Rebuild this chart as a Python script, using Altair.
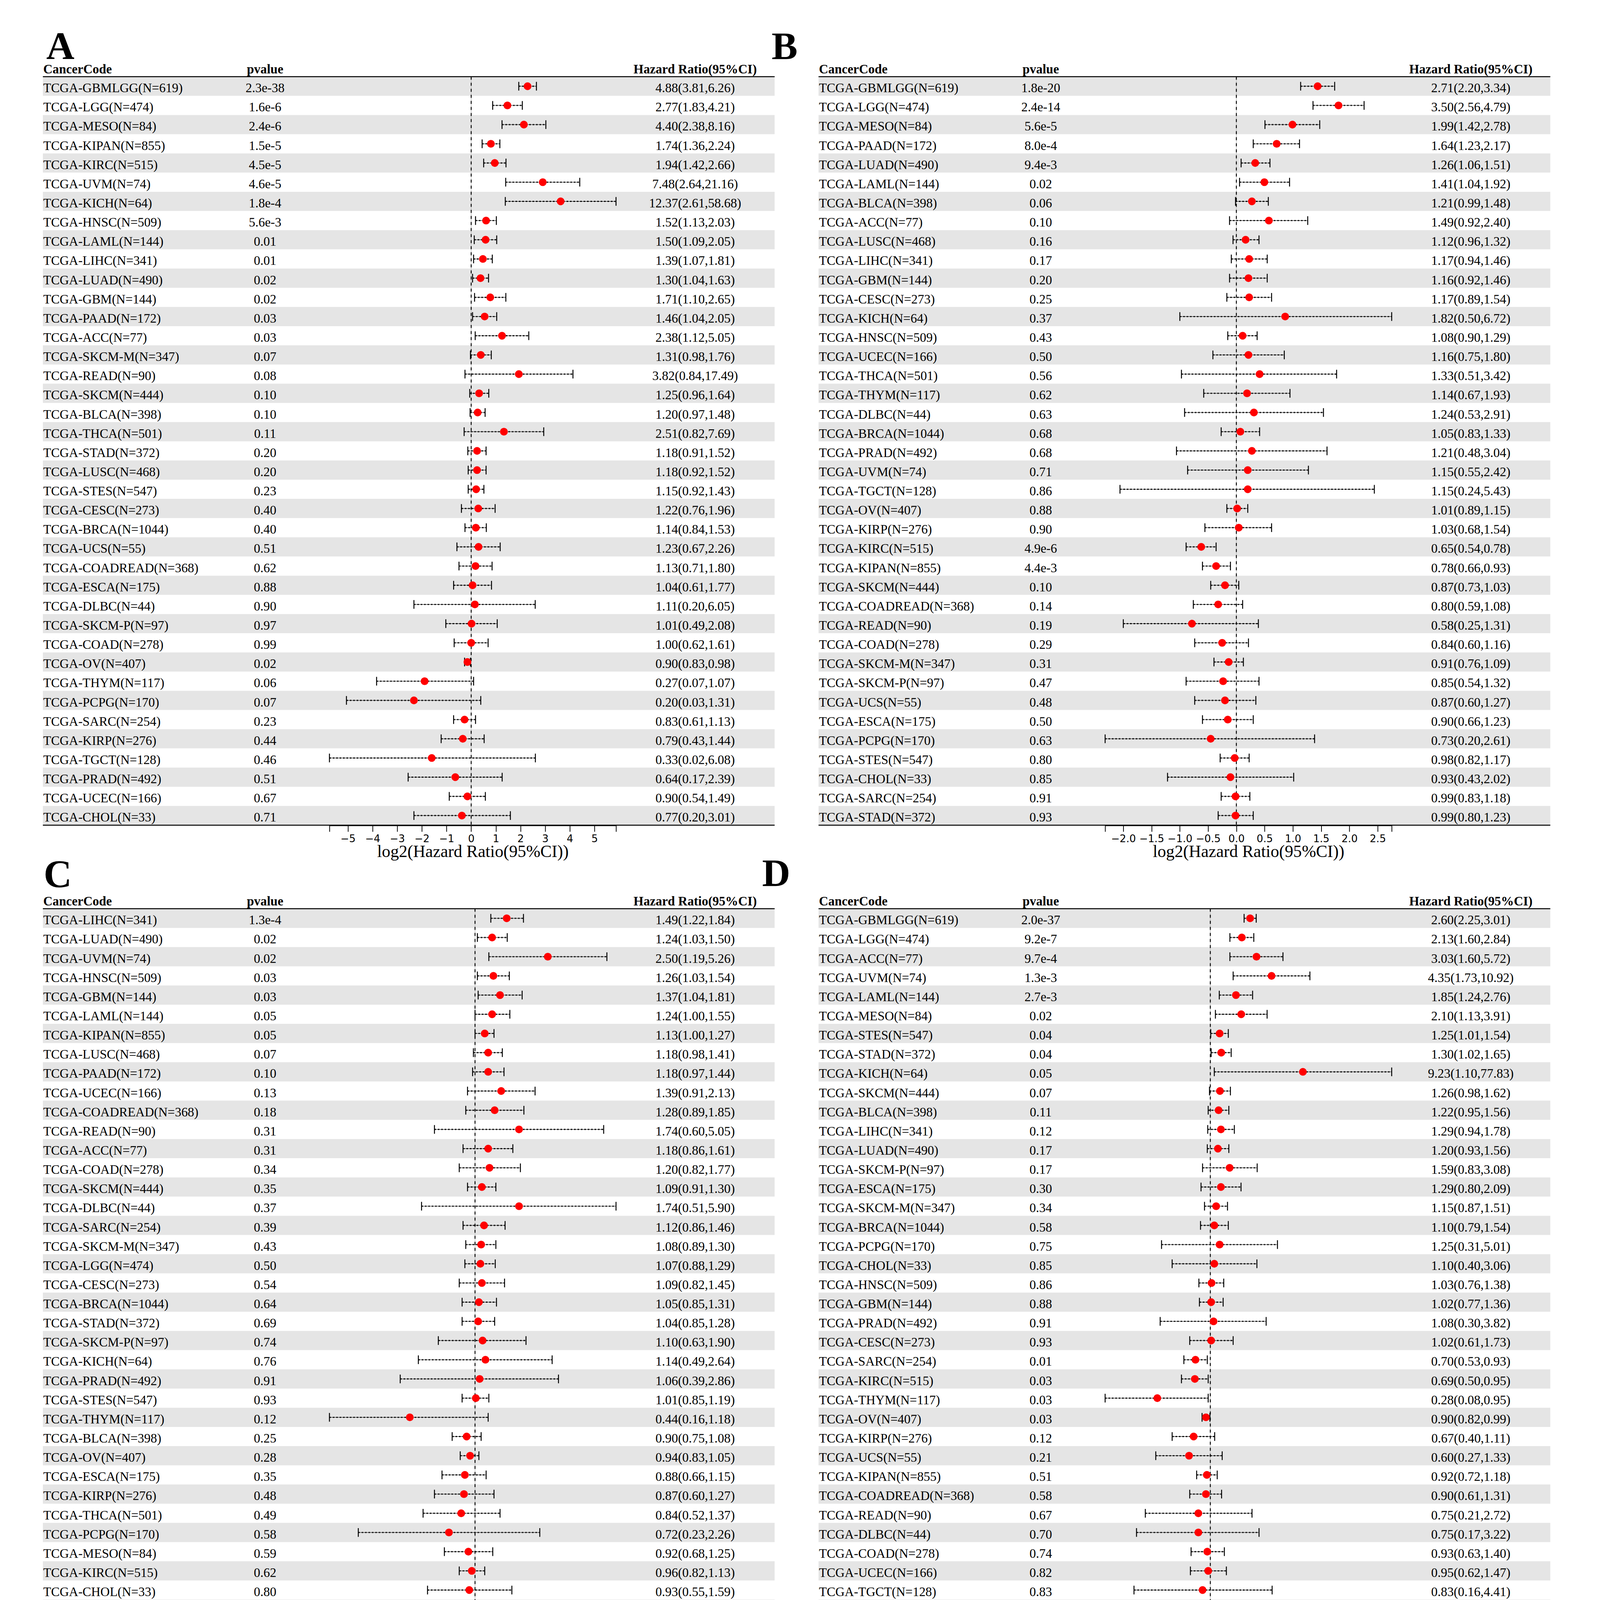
import altair as alt
import numpy as np
import pandas as pd

# ---------------- data ----------------
HEADERS = ["CancerCode", "pvalue", "Hazard Ratio(95%CI)"]
AXIS_TITLE = "log2(Hazard Ratio(95%CI))"
LETTERS = ["A", "B", "C", "D"]

A_names = ["TCGA-GBMLGG(N=619)", "TCGA-LGG(N=474)", "TCGA-MESO(N=84)", "TCGA-KIPAN(N=855)",
           "TCGA-KIRC(N=515)", "TCGA-UVM(N=74)", "TCGA-KICH(N=64)", "TCGA-HNSC(N=509)",
           "TCGA-LAML(N=144)", "TCGA-LIHC(N=341)", "TCGA-LUAD(N=490)", "TCGA-GBM(N=144)",
           "TCGA-PAAD(N=172)", "TCGA-ACC(N=77)", "TCGA-SKCM-M(N=347)", "TCGA-READ(N=90)",
           "TCGA-SKCM(N=444)", "TCGA-BLCA(N=398)", "TCGA-THCA(N=501)", "TCGA-STAD(N=372)",
           "TCGA-LUSC(N=468)", "TCGA-STES(N=547)", "TCGA-CESC(N=273)", "TCGA-BRCA(N=1044)",
           "TCGA-UCS(N=55)", "TCGA-COADREAD(N=368)", "TCGA-ESCA(N=175)", "TCGA-DLBC(N=44)",
           "TCGA-SKCM-P(N=97)", "TCGA-COAD(N=278)", "TCGA-OV(N=407)", "TCGA-THYM(N=117)",
           "TCGA-PCPG(N=170)", "TCGA-SARC(N=254)", "TCGA-KIRP(N=276)", "TCGA-TGCT(N=128)",
           "TCGA-PRAD(N=492)", "TCGA-UCEC(N=166)", "TCGA-CHOL(N=33)"]
A_p = ["2.3e-38", "1.6e-6", "2.4e-6", "1.5e-5", "4.5e-5", "4.6e-5", "1.8e-4", "5.6e-3",
       "0.01", "0.01", "0.02", "0.02", "0.03", "0.03", "0.07", "0.08", "0.10", "0.10", "0.11",
       "0.20", "0.20", "0.23", "0.40", "0.40", "0.51", "0.62", "0.88", "0.90", "0.97", "0.99",
       "0.02", "0.06", "0.07", "0.23", "0.44", "0.46", "0.51", "0.67", "0.71"]
A_hr = [4.88, 2.77, 4.40, 1.74, 1.94, 7.48, 12.37, 1.52, 1.50, 1.39, 1.30, 1.71, 1.46, 2.38,
        1.31, 3.82, 1.25, 1.20, 2.51, 1.18, 1.18, 1.15, 1.22, 1.14, 1.23, 1.13, 1.04, 1.11,
        1.01, 1.00, 0.90, 0.27, 0.20, 0.83, 0.79, 0.33, 0.64, 0.90, 0.77]
A_lo = [3.81, 1.83, 2.38, 1.36, 1.42, 2.64, 2.61, 1.13, 1.09, 1.07, 1.04, 1.10, 1.04, 1.12,
        0.98, 0.84, 0.96, 0.97, 0.82, 0.91, 0.92, 0.92, 0.76, 0.84, 0.67, 0.71, 0.61, 0.20,
        0.49, 0.62, 0.83, 0.07, 0.03, 0.61, 0.43, 0.0186, 0.17, 0.54, 0.20]
A_hi = [6.26, 4.21, 8.16, 2.24, 2.66, 21.16, 58.68, 2.03, 2.05, 1.81, 1.63, 2.65, 2.05, 5.05,
        1.76, 17.49, 1.64, 1.48, 7.69, 1.52, 1.52, 1.43, 1.96, 1.53, 2.26, 1.80, 1.77, 6.05,
        2.08, 1.61, 0.98, 1.07, 1.31, 1.13, 1.44, 6.08, 2.39, 1.49, 3.01]
A_ticks = [-5, -4, -3, -2, -1, 0, 1, 2, 3, 4, 5]

B_names = ["TCGA-GBMLGG(N=619)", "TCGA-LGG(N=474)", "TCGA-MESO(N=84)", "TCGA-PAAD(N=172)",
           "TCGA-LUAD(N=490)", "TCGA-LAML(N=144)", "TCGA-BLCA(N=398)", "TCGA-ACC(N=77)",
           "TCGA-LUSC(N=468)", "TCGA-LIHC(N=341)", "TCGA-GBM(N=144)", "TCGA-CESC(N=273)",
           "TCGA-KICH(N=64)", "TCGA-HNSC(N=509)", "TCGA-UCEC(N=166)", "TCGA-THCA(N=501)",
           "TCGA-THYM(N=117)", "TCGA-DLBC(N=44)", "TCGA-BRCA(N=1044)", "TCGA-PRAD(N=492)",
           "TCGA-UVM(N=74)", "TCGA-TGCT(N=128)", "TCGA-OV(N=407)", "TCGA-KIRP(N=276)",
           "TCGA-KIRC(N=515)", "TCGA-KIPAN(N=855)", "TCGA-SKCM(N=444)", "TCGA-COADREAD(N=368)",
           "TCGA-READ(N=90)", "TCGA-COAD(N=278)", "TCGA-SKCM-M(N=347)", "TCGA-SKCM-P(N=97)",
           "TCGA-UCS(N=55)", "TCGA-ESCA(N=175)", "TCGA-PCPG(N=170)", "TCGA-STES(N=547)",
           "TCGA-CHOL(N=33)", "TCGA-SARC(N=254)", "TCGA-STAD(N=372)"]
B_p = ["1.8e-20", "2.4e-14", "5.6e-5", "8.0e-4", "9.4e-3", "0.02", "0.06", "0.10", "0.16",
       "0.17", "0.20", "0.25", "0.37", "0.43", "0.50", "0.56", "0.62", "0.63", "0.68", "0.68",
       "0.71", "0.86", "0.88", "0.90", "4.9e-6", "4.4e-3", "0.10", "0.14", "0.19", "0.29",
       "0.31", "0.47", "0.48", "0.50", "0.63", "0.80", "0.85", "0.91", "0.93"]
B_hr = [2.71, 3.50, 1.99, 1.64, 1.26, 1.41, 1.21, 1.49, 1.12, 1.17, 1.16, 1.17, 1.82, 1.08,
        1.16, 1.33, 1.14, 1.24, 1.05, 1.21, 1.15, 1.15, 1.01, 1.03, 0.65, 0.78, 0.87, 0.80,
        0.58, 0.84, 0.91, 0.85, 0.87, 0.90, 0.73, 0.98, 0.93, 0.99, 0.99]
B_lo = [2.20, 2.56, 1.42, 1.23, 1.06, 1.04, 0.99, 0.92, 0.96, 0.94, 0.92, 0.89, 0.50, 0.90,
        0.75, 0.51, 0.67, 0.53, 0.83, 0.48, 0.55, 0.24, 0.89, 0.68, 0.54, 0.66, 0.73, 0.59,
        0.25, 0.60, 0.76, 0.54, 0.60, 0.66, 0.20, 0.82, 0.43, 0.83, 0.80]
B_hi = [3.34, 4.79, 2.78, 2.17, 1.51, 1.92, 1.48, 2.40, 1.32, 1.46, 1.46, 1.54, 6.72, 1.29,
        1.80, 3.42, 1.93, 2.91, 1.33, 3.04, 2.42, 5.43, 1.15, 1.54, 0.78, 0.93, 1.03, 1.08,
        1.31, 1.16, 1.09, 1.32, 1.27, 1.23, 2.61, 1.17, 2.02, 1.18, 1.23]
B_ticks = [-2.0, -1.5, -1.0, -0.5, 0.0, 0.5, 1.0, 1.5, 2.0, 2.5]

C_names = ["TCGA-LIHC(N=341)", "TCGA-LUAD(N=490)", "TCGA-UVM(N=74)", "TCGA-HNSC(N=509)",
           "TCGA-GBM(N=144)", "TCGA-LAML(N=144)", "TCGA-KIPAN(N=855)", "TCGA-LUSC(N=468)",
           "TCGA-PAAD(N=172)", "TCGA-UCEC(N=166)", "TCGA-COADREAD(N=368)", "TCGA-READ(N=90)",
           "TCGA-ACC(N=77)", "TCGA-COAD(N=278)", "TCGA-SKCM(N=444)", "TCGA-DLBC(N=44)",
           "TCGA-SARC(N=254)", "TCGA-SKCM-M(N=347)", "TCGA-LGG(N=474)", "TCGA-CESC(N=273)",
           "TCGA-BRCA(N=1044)", "TCGA-STAD(N=372)", "TCGA-SKCM-P(N=97)", "TCGA-KICH(N=64)",
           "TCGA-PRAD(N=492)", "TCGA-STES(N=547)", "TCGA-THYM(N=117)", "TCGA-BLCA(N=398)",
           "TCGA-OV(N=407)", "TCGA-ESCA(N=175)", "TCGA-KIRP(N=276)", "TCGA-THCA(N=501)",
           "TCGA-PCPG(N=170)", "TCGA-MESO(N=84)", "TCGA-KIRC(N=515)", "TCGA-CHOL(N=33)",
           "TCGA-GBMLGG(N=619)", "TCGA-UCS(N=55)", "TCGA-TGCT(N=128)"]
C_p = ["1.3e-4", "0.02", "0.02", "0.03", "0.03", "0.05", "0.05", "0.07", "0.10", "0.13",
       "0.18", "0.31", "0.31", "0.34", "0.35", "0.37", "0.39", "0.43", "0.50", "0.54", "0.64",
       "0.69", "0.74", "0.76", "0.91", "0.93", "0.12", "0.25", "0.28", "0.35", "0.48", "0.49",
       "0.58", "0.59", "0.62", "0.80", "0.86", "0.87", "0.90"]
C_hr = [1.49, 1.24, 2.50, 1.26, 1.37, 1.24, 1.13, 1.18, 1.18, 1.39, 1.28, 1.74, 1.18, 1.20,
        1.09, 1.74, 1.12, 1.08, 1.07, 1.09, 1.05, 1.04, 1.10, 1.14, 1.06, 1.01, 0.44, 0.90,
        0.94, 0.88, 0.87, 0.84, 0.72, 0.92, 0.96, 0.93, 0.99, 0.96, 0.92]
C_lo = [1.22, 1.03, 1.19, 1.03, 1.04, 1.00, 1.00, 0.98, 0.97, 0.91, 0.89, 0.60, 0.86, 0.82,
        0.91, 0.51, 0.86, 0.89, 0.88, 0.82, 0.85, 0.85, 0.63, 0.49, 0.39, 0.85, 0.16, 0.75,
        0.83, 0.66, 0.60, 0.52, 0.23, 0.68, 0.82, 0.55, 0.86, 0.57, 0.27]
C_hi = [1.84, 1.50, 5.26, 1.54, 1.81, 1.55, 1.27, 1.41, 1.44, 2.13, 1.85, 5.05, 1.61, 1.77,
        1.30, 5.90, 1.46, 1.30, 1.29, 1.45, 1.31, 1.28, 1.90, 2.64, 2.86, 1.19, 1.18, 1.08,
        1.05, 1.15, 1.27, 1.37, 2.26, 1.25, 1.13, 1.59, 1.13, 1.61, 3.14]
C_ticks = [-2.5, -2.0, -1.5, -1.0, -0.5, 0.0, 0.5, 1.0, 1.5, 2.0, 2.5]

D_names = ["TCGA-GBMLGG(N=619)", "TCGA-LGG(N=474)", "TCGA-ACC(N=77)", "TCGA-UVM(N=74)",
           "TCGA-LAML(N=144)", "TCGA-MESO(N=84)", "TCGA-STES(N=547)", "TCGA-STAD(N=372)",
           "TCGA-KICH(N=64)", "TCGA-SKCM(N=444)", "TCGA-BLCA(N=398)", "TCGA-LIHC(N=341)",
           "TCGA-LUAD(N=490)", "TCGA-SKCM-P(N=97)", "TCGA-ESCA(N=175)", "TCGA-SKCM-M(N=347)",
           "TCGA-BRCA(N=1044)", "TCGA-PCPG(N=170)", "TCGA-CHOL(N=33)", "TCGA-HNSC(N=509)",
           "TCGA-GBM(N=144)", "TCGA-PRAD(N=492)", "TCGA-CESC(N=273)", "TCGA-SARC(N=254)",
           "TCGA-KIRC(N=515)", "TCGA-THYM(N=117)", "TCGA-OV(N=407)", "TCGA-KIRP(N=276)",
           "TCGA-UCS(N=55)", "TCGA-KIPAN(N=855)", "TCGA-COADREAD(N=368)", "TCGA-READ(N=90)",
           "TCGA-DLBC(N=44)", "TCGA-COAD(N=278)", "TCGA-UCEC(N=166)", "TCGA-TGCT(N=128)",
           "TCGA-THCA(N=501)", "TCGA-PAAD(N=172)", "TCGA-LUSC(N=468)"]
D_p = ["2.0e-37", "9.2e-7", "9.7e-4", "1.3e-3", "2.7e-3", "0.02", "0.04", "0.04", "0.05",
       "0.07", "0.11", "0.12", "0.17", "0.17", "0.30", "0.34", "0.58", "0.75", "0.85", "0.86",
       "0.88", "0.91", "0.93", "0.01", "0.03", "0.03", "0.03", "0.12", "0.21", "0.51", "0.58",
       "0.67", "0.70", "0.74", "0.82", "0.83", "0.93", "0.95", "0.96"]
D_hr = [2.60, 2.13, 3.03, 4.35, 1.85, 2.10, 1.25, 1.30, 9.23, 1.26, 1.22, 1.29, 1.20, 1.59,
        1.29, 1.15, 1.10, 1.25, 1.10, 1.03, 1.02, 1.08, 1.02, 0.70, 0.69, 0.28, 0.90, 0.67,
        0.60, 0.92, 0.90, 0.75, 0.75, 0.93, 0.95, 0.83, 0.94, 0.99, 0.99]
D_lo = [2.25, 1.60, 1.60, 1.73, 1.24, 1.13, 1.01, 1.02, 1.10, 0.98, 0.95, 0.94, 0.93, 0.83,
        0.80, 0.87, 0.79, 0.31, 0.40, 0.76, 0.77, 0.30, 0.61, 0.53, 0.50, 0.08, 0.82, 0.40,
        0.27, 0.72, 0.61, 0.21, 0.17, 0.63, 0.62, 0.16, 0.27, 0.67, 0.75]
D_hi = [3.01, 2.84, 5.72, 10.92, 2.76, 3.91, 1.54, 1.65, 77.83, 1.62, 1.56, 1.78, 1.56, 3.08,
        2.09, 1.51, 1.54, 5.01, 3.06, 1.38, 1.36, 3.82, 1.73, 0.93, 0.95, 0.95, 0.99, 1.11,
        1.33, 1.18, 1.31, 2.72, 3.22, 1.40, 1.47, 4.41, 3.33, 1.47, 1.31]
D_ticks = [-3, -2, -1, 0, 1, 2, 3, 4, 5, 6]

# ---------------- layout / style (pixels inside one 4210 x 4403 view) ----------------
VIEW_W, VIEW_H = 4210, 4403
W = 1933              # table width of a panel
ROW = 50.7            # row height
FOREST = (757, 1514)  # forest column inside a panel (relative to table left)
P_X = 587
HR_X = 1723
SERIF = "Liberation Serif"
GREY = "#e5e5e5"
# table top-left of each panel, letter anchor (x, baseline) of each panel
ORIGINS = [(105, 73.3), (2154, 73.3), (105, 2271.3), (2154, 2271.3)]
LETTER_POS = [(114, 77), (2030, 77), (107, 2264), (2005, 2262)]


def panel(letter, origin, lpos, names, pv, hr, lo, hi, ticks, fmt):
    x0, y0 = origin
    n = len(names)
    H = (n + 1) * ROW
    df = pd.DataFrame({"row": np.arange(1, n + 1), "name": names, "p": pv,
                       "hr": hr, "lo": lo, "hi": hi})
    df["lhr"] = np.log2(df["hr"])
    df["llo"] = np.log2(df["lo"])
    df["lhi"] = np.log2(df["hi"])
    df["label"] = [f"{a:.2f}({b:.2f},{c:.2f})" for a, b, c in zip(hr, lo, hi)]
    xmin = float(df["llo"].min())
    xmax = float(df["lhi"].max())

    ysc = alt.Scale(domain=[-0.5, n + 0.5], range=[y0, y0 + H], nice=False, zero=False)
    xsc = alt.Scale(domain=[xmin, xmax], range=[x0 + FOREST[0], x0 + FOREST[1]],
                    nice=False, zero=False)

    label_expr = (f"datum.value < {ticks[0] - 1e-9} || datum.value > {ticks[-1] + 1e-9}"
                  f" ? '' : format(datum.value, '{fmt}')")
    axis = alt.Axis(values=[xmin] + list(ticks) + [xmax], labelExpr=label_expr,
                    orient="bottom", offset=y0 + H - VIEW_H,
                    title=AXIS_TITLE, grid=False,
                    domainColor="black", domainWidth=4,
                    tickColor="black", tickWidth=2, tickSize=17,
                    labelFont="DejaVu Sans", labelFontSize=27, labelColor="black",
                    labelPadding=7, labelFlush=False, labelOverlap=False,
                    titleFont=SERIF, titleFontSize=45, titleFontWeight="normal",
                    titleColor="black", titleBaseline="alphabetic", titlePadding=34)

    def X(field):
        return alt.X(field, scale=xsc, axis=axis)

    def YY(field):
        return alt.Y(field, scale=ysc, axis=None)

    base = alt.Chart(df)
    Y = YY("row:Q")

    bands = base.transform_filter("datum.row % 2 == 1").transform_calculate(
        y1="datum.row - 0.5", y2="datum.row + 0.5"
    ).mark_rect(color=GREY).encode(
        y=YY("y1:Q"), y2="y2:Q", x=alt.value(x0), x2=alt.value(x0 + W))

    lines_df = pd.DataFrame({"y": [0.5, n + 0.5]})
    hlines = alt.Chart(lines_df).mark_rule(color="black", strokeWidth=2.6).encode(
        y=YY("y:Q"), x=alt.value(x0), x2=alt.value(x0 + W))

    zero_df = pd.DataFrame({"x": [0.0], "y": [0.5], "y2": [n + 0.5]})
    zero_grey = alt.Chart(zero_df).mark_rule(color="#b0b0b0", strokeWidth=1.2).encode(
        x=X("x:Q"), y=YY("y:Q"), y2="y2:Q")
    zero_dash = alt.Chart(zero_df).mark_rule(color="black", strokeWidth=2.4,
                                             strokeDash=[8, 8]).encode(
        x=X("x:Q"), y=YY("y:Q"), y2="y2:Q")

    ci_thin = base.mark_rule(color="black", strokeWidth=1.0).encode(
        x=X("llo:Q"), x2="lhi:Q", y=Y)
    ci_dash = base.mark_rule(color="black", strokeWidth=3, strokeDash=[4, 5]).encode(
        x=X("llo:Q"), x2="lhi:Q", y=Y)
    cap_lo = base.mark_tick(orient="vertical", size=23, thickness=2.5, color="black",
                            opacity=1).encode(x=X("llo:Q"), y=Y)
    cap_hi = base.mark_tick(orient="vertical", size=23, thickness=2.5, color="black",
                            opacity=1).encode(x=X("lhi:Q"), y=Y)
    pts = base.mark_circle(size=420, color="#ff0000", opacity=1).encode(
        x=X("lhr:Q"), y=Y)

    txt = dict(font=SERIF, fontSize=34, color="black", baseline="alphabetic", dy=16)
    t_name = base.mark_text(align="left", **txt).encode(
        x=alt.value(x0 + 1), y=Y, text="name:N")
    t_p = base.mark_text(align="center", **txt).encode(
        x=alt.value(x0 + P_X), y=Y, text="p:N")
    t_hr = base.mark_text(align="center", **txt).encode(
        x=alt.value(x0 + HR_X), y=Y, text="label:N")

    hdr = alt.Chart(pd.DataFrame({"row": [0], "h0": [HEADERS[0]], "h1": [HEADERS[1]],
                                  "h2": [HEADERS[2]]}))
    htxt = dict(font=SERIF, fontSize=34, fontWeight="bold", color="black",
                baseline="alphabetic", dy=17)
    h0 = hdr.mark_text(align="left", **htxt).encode(
        x=alt.value(x0 + 1), y=Y, text="h0:N")
    h1 = hdr.mark_text(align="center", **htxt).encode(
        x=alt.value(x0 + P_X), y=Y, text="h1:N")
    h2 = hdr.mark_text(align="center", **htxt).encode(
        x=alt.value(x0 + HR_X), y=Y, text="h2:N")

    let = alt.Chart(pd.DataFrame({"t": [letter]})).mark_text(
        font=SERIF, fontSize=103, fontWeight="bold", color="black",
        align="left", baseline="alphabetic"
    ).encode(x=alt.value(lpos[0]), y=alt.value(lpos[1]), text="t:N")

    return alt.layer(
        bands, hlines, zero_grey, zero_dash, ci_thin, ci_dash, cap_lo, cap_hi, pts,
        t_name, t_p, t_hr, h0, h1, h2, let
    )


specs = [
    (A_names, A_p, A_hr, A_lo, A_hi, A_ticks, "d"),
    (B_names, B_p, B_hr, B_lo, B_hi, B_ticks, ".1f"),
    (C_names, C_p, C_hr, C_lo, C_hi, C_ticks, ".1f"),
    (D_names, D_p, D_hr, D_lo, D_hi, D_ticks, "d"),
]
panels = [panel(LETTERS[i], ORIGINS[i], LETTER_POS[i], *specs[i]) for i in range(4)]

chart = alt.layer(*panels).resolve_scale(
    x="independent", y="independent"
).resolve_axis(x="independent", y="independent").properties(
    width=VIEW_W, height=VIEW_H,
    autosize=alt.AutoSizeParams(type="none"),
    padding={"left": 0, "top": 0, "right": 0, "bottom": 0},
    background="white"
).configure_view(stroke=None)

chart.save("out.html", embed_options={"renderer": "svg", "actions": False})
